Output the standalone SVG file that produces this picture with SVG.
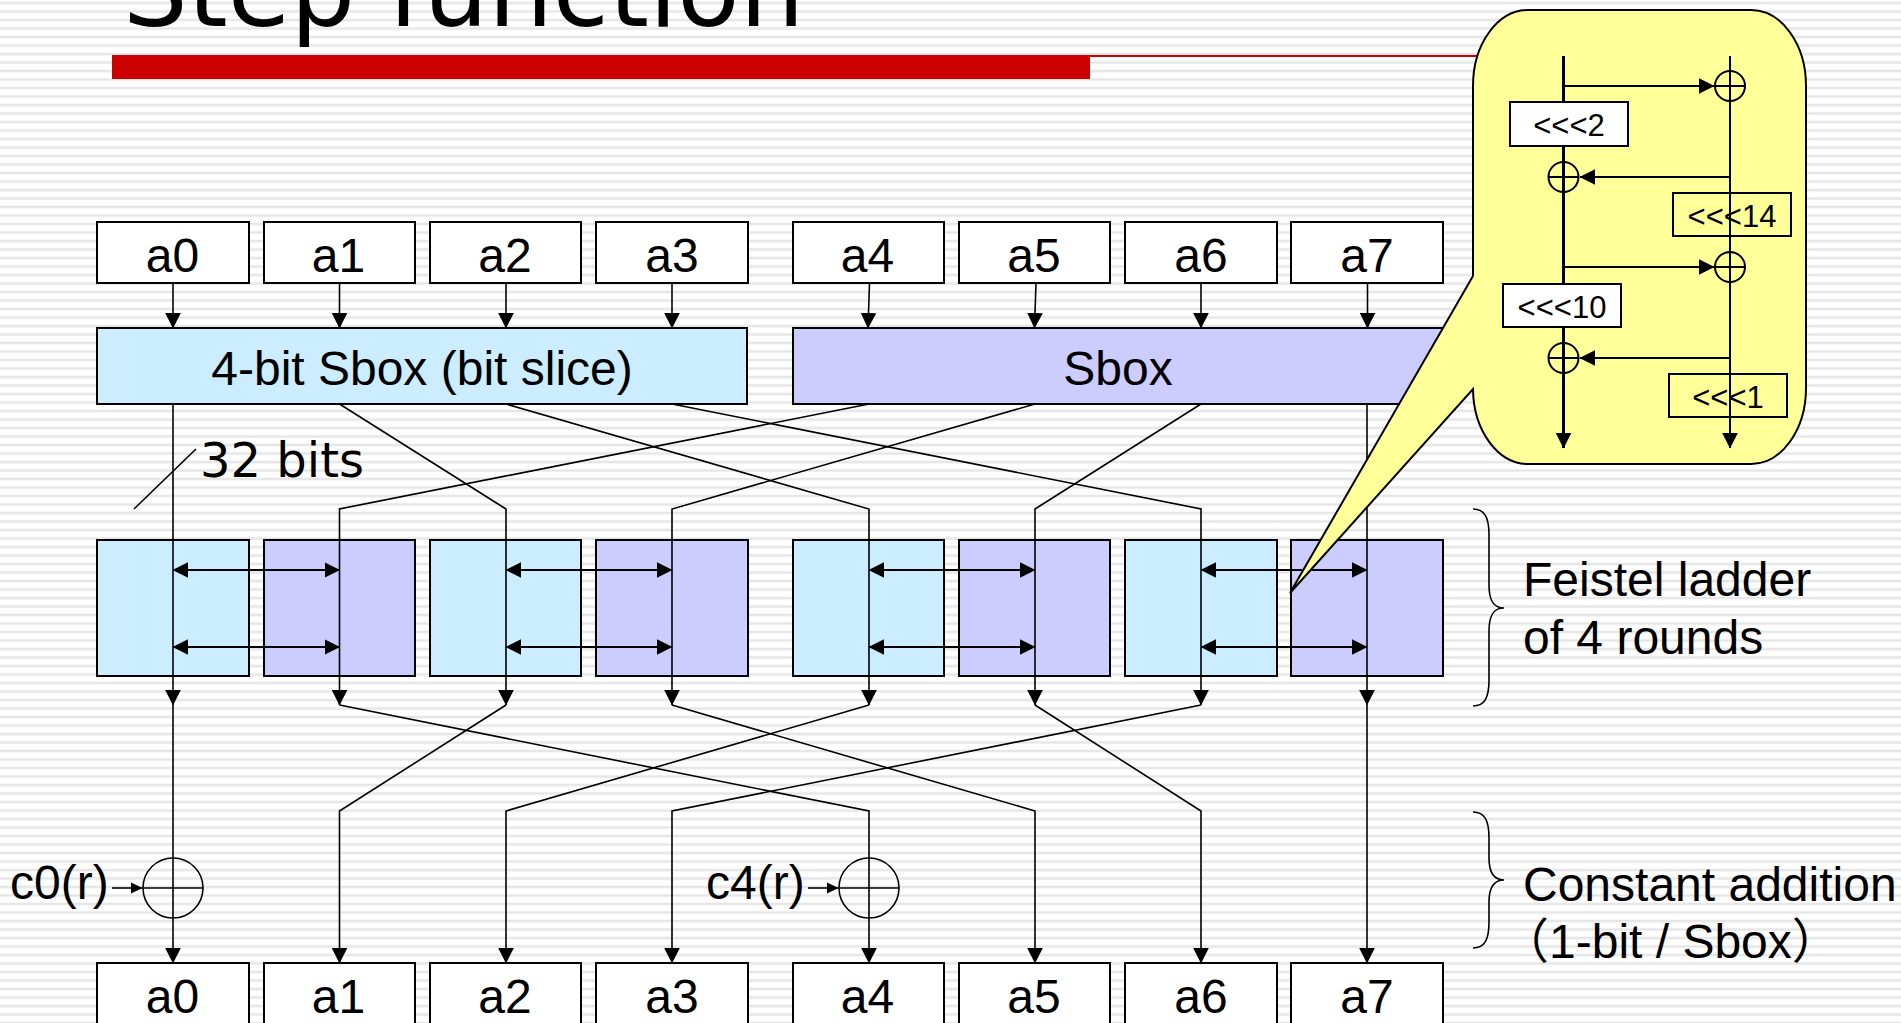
<svg xmlns="http://www.w3.org/2000/svg" width="1901" height="1023" viewBox="0 0 1901 1023">
<style>
text{font-family:"Liberation Sans",Arial,sans-serif;fill:#000;font-size:48px}
.c{text-anchor:middle}
.v{font-family:"DejaVu Sans",Verdana,sans-serif}
.b{stroke:#000;stroke-width:2}
.w{fill:#fff}.bl{fill:#ccecff}.pu{fill:#ccccff}
.l{fill:none;stroke:#000;stroke-width:1.6}
.s{fill:none;stroke:#000;stroke-width:2}
.t{font-size:31px}
</style>
<defs>
<pattern id="st" patternUnits="userSpaceOnUse" width="10" height="8.5">
<rect width="10" height="8.5" fill="#fff"/>
<rect y="1.7" width="10" height="2.6" fill="#e6e6e6"/>
</pattern>
<marker id="a" markerUnits="userSpaceOnUse" markerWidth="16" markerHeight="16" viewBox="0 0 16 16" refX="15" refY="8" orient="auto-start-reverse"><path d="M0 0.2L15.5 8L0 15.8Z"/></marker>
<marker id="sm" markerUnits="userSpaceOnUse" markerWidth="12" markerHeight="12" viewBox="0 0 12 12" refX="11" refY="6" orient="auto"><path d="M0 0.5L11.5 6L0 11.5Z"/></marker>
</defs>
<rect width="1901" height="1023" fill="url(#st)"/>
<g id="title"><text class="v" x="123" y="26" style="font-size:102px">Step function</text></g>
<g id="rule"><rect x="112" y="55" width="978" height="24" fill="#cc0000"/><rect x="1090" y="55" width="400" height="2" fill="#cc0000"/></g>

<g id="top-a0"><rect class="b w" x="97" y="222" width="152" height="61"/><text class="c" x="172.500" y="272">a0</text></g>
<g id="top-a1"><rect class="b w" x="264" y="222" width="151" height="61"/><text class="c" x="338.500" y="272">a1</text></g>
<g id="top-a2"><rect class="b w" x="430" y="222" width="151" height="61"/><text class="c" x="505" y="272">a2</text></g>
<g id="top-a3"><rect class="b w" x="596" y="222" width="152" height="61"/><text class="c" x="672" y="272">a3</text></g>
<g id="top-a4"><rect class="b w" x="793" y="222" width="151" height="61"/><text class="c" x="867.500" y="272">a4</text></g>
<g id="top-a5"><rect class="b w" x="959" y="222" width="151" height="61"/><text class="c" x="1034" y="272">a5</text></g>
<g id="top-a6"><rect class="b w" x="1125" y="222" width="152" height="61"/><text class="c" x="1201" y="272">a6</text></g>
<g id="top-a7"><rect class="b w" x="1291" y="222" width="152" height="61"/><text class="c" x="1367" y="272">a7</text></g>

<g id="sbox-left"><rect class="b bl" x="97" y="328" width="650" height="76"/><text class="c" x="422" y="385">4-bit Sbox (bit slice)</text></g>
<g id="sbox-right"><rect class="b pu" x="793" y="328" width="650" height="76"/><text class="c" x="1118" y="385">Sbox</text></g>

<g id="f0"><rect class="b bl" x="97" y="540" width="152" height="136"/></g>
<g id="f1"><rect class="b pu" x="264" y="540" width="151" height="136"/></g>
<g id="f2"><rect class="b bl" x="430" y="540" width="151" height="136"/></g>
<g id="f3"><rect class="b pu" x="596" y="540" width="152" height="136"/></g>
<g id="f4"><rect class="b bl" x="793" y="540" width="151" height="136"/></g>
<g id="f5"><rect class="b pu" x="959" y="540" width="151" height="136"/></g>
<g id="f6"><rect class="b bl" x="1125" y="540" width="152" height="136"/></g>
<g id="f7"><rect class="b pu" x="1291" y="540" width="152" height="136"/></g>

<g id="bot-a0"><rect class="b w" x="97" y="963" width="152" height="70"/><text class="c" x="172.500" y="1013">a0</text></g>
<g id="bot-a1"><rect class="b w" x="264" y="963" width="151" height="70"/><text class="c" x="338.500" y="1013">a1</text></g>
<g id="bot-a2"><rect class="b w" x="430" y="963" width="151" height="70"/><text class="c" x="505" y="1013">a2</text></g>
<g id="bot-a3"><rect class="b w" x="596" y="963" width="152" height="70"/><text class="c" x="672" y="1013">a3</text></g>
<g id="bot-a4"><rect class="b w" x="793" y="963" width="151" height="70"/><text class="c" x="867.500" y="1013">a4</text></g>
<g id="bot-a5"><rect class="b w" x="959" y="963" width="151" height="70"/><text class="c" x="1034" y="1013">a5</text></g>
<g id="bot-a6"><rect class="b w" x="1125" y="963" width="152" height="70"/><text class="c" x="1201" y="1013">a6</text></g>
<g id="bot-a7"><rect class="b w" x="1291" y="963" width="152" height="70"/><text class="c" x="1367" y="1013">a7</text></g>

<g id="xor0"><circle class="l" cx="173" cy="888" r="30"/><text x="10" y="899">c0(r)</text></g>
<g id="xor4"><circle class="l" cx="869" cy="888" r="30"/><text x="706" y="899">c4(r)</text></g>

<g id="label-32"><text class="v" x="200" y="477">32 bits</text></g>
<g id="label-feistel"><text x="1523" y="596">Feistel ladder</text><text x="1523" y="654">of 4 rounds</text></g>
<g id="label-constant"><text x="1523" y="901">Constant addition</text><text x="1501" y="958" style="font-family:'Liberation Sans','Noto Sans CJK JP',sans-serif">（1-bit / Sbox）</text></g>

<g id="connectors">
<path class="l" d="M173 283V328" marker-end="url(#a)"/>
<path class="l" d="M339.500 283V328" marker-end="url(#a)"/>
<path class="l" d="M506 283V328" marker-end="url(#a)"/>
<path class="l" d="M672 283V328" marker-end="url(#a)"/>
<path class="l" d="M869.500 283L868 328" marker-end="url(#a)"/>
<path class="l" d="M1036 283L1034.500 328" marker-end="url(#a)"/>
<path class="l" d="M1201 283V328" marker-end="url(#a)"/>
<path class="l" d="M1367.500 283V328" marker-end="url(#a)"/>

<path class="l" d="M173 404V705" marker-end="url(#a)"/>
<path class="l" d="M339.500 404L506 509V705" marker-end="url(#a)"/>
<path class="l" d="M506 404L869 509V705" marker-end="url(#a)"/>
<path class="l" d="M672 404L1201 509V705" marker-end="url(#a)"/>
<path class="l" d="M869 404L339.500 509V705" marker-end="url(#a)"/>
<path class="l" d="M1035 404L672 509V705" marker-end="url(#a)"/>
<path class="l" d="M1201 404L1035 509V705" marker-end="url(#a)"/>
<path class="l" d="M1367 404V705" marker-end="url(#a)"/>

<path class="l" d="M173 705V963" marker-end="url(#a)"/>
<path class="l" d="M339.500 705L869 811V963" marker-end="url(#a)"/>
<path class="l" d="M506 705L339.500 811V963" marker-end="url(#a)"/>
<path class="l" d="M672 705L1035 811V963" marker-end="url(#a)"/>
<path class="l" d="M869 705L506 811V963" marker-end="url(#a)"/>
<path class="l" d="M1035 705L1201 811V963" marker-end="url(#a)"/>
<path class="l" d="M1201 705L672 811V963" marker-end="url(#a)"/>
<path class="l" d="M1367 705V963" marker-end="url(#a)"/>

<g class="s">
<path d="M173 570H339.500" marker-start="url(#a)" marker-end="url(#a)"/><path d="M173 647H339.500" marker-start="url(#a)" marker-end="url(#a)"/>
<path d="M506 570H672" marker-start="url(#a)" marker-end="url(#a)"/><path d="M506 647H672" marker-start="url(#a)" marker-end="url(#a)"/>
<path d="M869 570H1035" marker-start="url(#a)" marker-end="url(#a)"/><path d="M869 647H1035" marker-start="url(#a)" marker-end="url(#a)"/>
<path d="M1201 570H1367" marker-start="url(#a)" marker-end="url(#a)"/><path d="M1201 647H1367" marker-start="url(#a)" marker-end="url(#a)"/>
</g>

<path class="l" d="M143 888H203"/><path class="l" d="M839 888H899"/>
<path class="l" d="M112 888H142" marker-end="url(#sm)"/>
<path class="l" d="M808 888H838" marker-end="url(#sm)"/>
<path class="l" d="M196 449L134 509"/>
<path class="l" d="M1473 509C1485 509 1489 518 1489 535V585C1489 600 1493 608 1504 608C1493 608 1489 616 1489 631V680C1489 697 1485 706 1473 706"/>
<path class="l" d="M1473 812C1485 812 1489 821 1489 838V858C1489 872 1493 880 1504 880C1493 880 1489 888 1489 902V922C1489 939 1485 948 1473 948"/>
</g>

<g id="callout">
<path d="M1528 10H1751A55 76 0 0 1 1806 86V388A55 76 0 0 1 1751 464H1528A55 76 0 0 1 1473 389L1290 593L1473 276V86A55 76 0 0 1 1528 10Z" fill="#ffff99" stroke="#000" stroke-width="2"/>
</g>
<g id="rot2"><rect class="b w" x="1510" y="102" width="118" height="44"/><text class="c t" x="1569" y="136">&lt;&lt;&lt;2</text></g>
<g id="rot14"><rect class="b" fill="none" x="1673" y="193" width="118" height="43"/><text class="c t" x="1732" y="227">&lt;&lt;&lt;14</text></g>
<g id="rot10"><rect class="b w" x="1503" y="284" width="118" height="43"/><text class="c t" x="1562" y="318">&lt;&lt;&lt;10</text></g>
<g id="rot1"><rect class="b" fill="none" x="1669" y="374" width="118" height="43"/><text class="c t" x="1728" y="408">&lt;&lt;&lt;1</text></g>
<g id="oplus1"><circle class="s w" cx="1730" cy="86" r="15"/></g>
<g id="oplus2"><circle class="s w" cx="1563.500" cy="177" r="15"/></g>
<g id="oplus3"><circle class="s w" cx="1730" cy="267" r="15"/></g>
<g id="oplus4"><circle class="s w" cx="1563.500" cy="358" r="15"/></g>
<g id="callout-connectors">
<path d="M1563.500 56V102M1563.500 146V284M1563.500 327V448" fill="none" stroke="#000" stroke-width="3" marker-end="url(#a)"/>
<path class="s" d="M1730 56V448" marker-end="url(#a)"/>
<path class="s" d="M1715 86H1745M1548.500 177H1578.500M1715 267H1745M1548.500 358H1578.500"/>
<path class="s" d="M1563.500 86H1714" marker-end="url(#a)"/>
<path class="s" d="M1730 177H1580" marker-end="url(#a)"/>
<path class="s" d="M1563.500 267H1714" marker-end="url(#a)"/>
<path class="s" d="M1730 358H1580" marker-end="url(#a)"/>
</g>
</svg>
